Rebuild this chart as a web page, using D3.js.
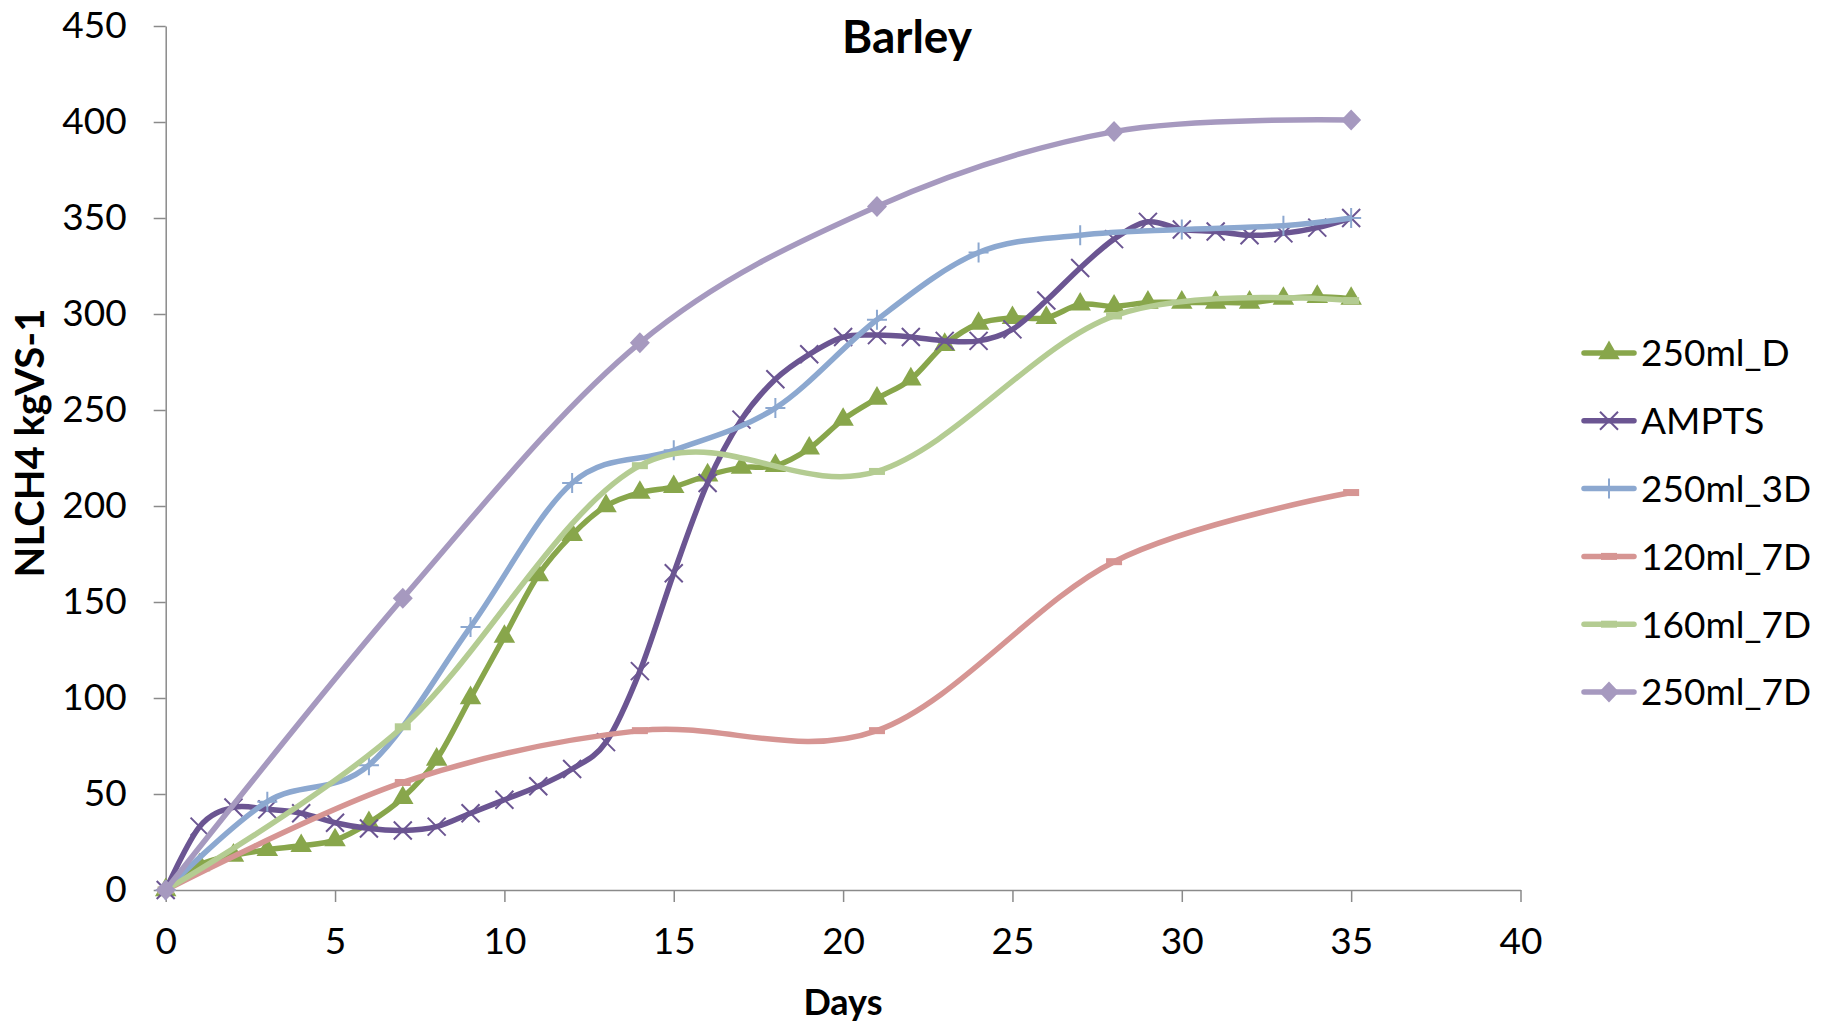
<!DOCTYPE html>
<html>
<head>
<meta charset="utf-8">
<script src="https://cdn.jsdelivr.net/npm/d3@7"></script>
<style>
  body { margin: 0; background: #fff; }
  svg { display: block; font-family: Lato, "Open Sans", sans-serif; }
</style>
</head>
<body>
<div id="wrapper"></div>
<script>
// data
const seriesNames = ["250ml_D", "AMPTS", "250ml_3D", "120ml_7D", "160ml_7D", "250ml_7D"]

const daysDaily = [0, 1, 2, 3, 4, 5, 6, 7, 8, 9, 10, 11, 12, 13, 14, 15, 16, 17,
  18, 19, 20, 21, 22, 23, 24, 25, 26, 27, 28, 29, 30, 31, 32, 33, 34, 35]
const days3 = [0, 3, 6, 9, 12, 15, 18, 21, 24, 27, 30, 33, 35]
const days7 = [0, 7, 14, 21, 28, 35]

const ml250D = [0, 13, 18, 21, 23, 26, 35, 48, 68, 100, 132, 164, 185, 200, 207, 210,
  216, 220, 221, 230, 245, 256, 266, 284, 295, 298, 298, 305, 304, 306, 306, 306, 306, 308, 309, 308]
const ampts = [0, 33, 43, 42, 40, 35, 32, 31, 33, 40, 47, 54, 63, 77, 114, 165,
  212, 245, 266, 279, 288, 289, 288, 286, 286, 292, 307, 324, 339, 348, 344, 343, 341, 342, 345, 350]
const ml250_3D = [0, 46, 65, 137, 212, 229, 251, 297, 332, 341, 344, 346, 350]
const ml120_7D = [0, 56, 83, 83, 171, 207]
const ml160_7D = [0, 85, 221, 218, 299, 307]
const ml250_7D = [0, 152, 285, 356, 395, 401]

const xTicks = [0, 5, 10, 15, 20, 25, 30, 35, 40]
const yTicks = [0, 50, 100, 150, 200, 250, 300, 350, 400, 450]

const series = [
  { name: seriesNames[0], days: daysDaily, values: ml250D, color: "#88a64b", marker: "triangle" },
  { name: seriesNames[1], days: daysDaily, values: ampts, color: "#6b5592", marker: "x" },
  { name: seriesNames[2], days: days3, values: ml250_3D, color: "#8ca8d0", marker: "plus" },
  { name: seriesNames[3], days: days7, values: ml120_7D, color: "#d69593", marker: "dash" },
  { name: seriesNames[4], days: days7, values: ml160_7D, color: "#b4cc92", marker: "dash" },
  { name: seriesNames[5], days: days7, values: ml250_7D, color: "#a699bf", marker: "diamond" },
]

const width = 1833
const height = 1028
const axisColor = "#8a8a8a"

const wrapper = d3.select("#wrapper")
  .append("svg")
    .attr("width", width)
    .attr("height", height)

const xScale = d3.scaleLinear()
  .domain([0, 40])
  .range([165.7, 1520.5])

const yScale = d3.scaleLinear()
  .domain([0, 450])
  .range([890, 26])

// axes
const xAxis = wrapper.append("g")
  .attr("transform", `translate(0,${yScale(0)})`)
  .call(d3.axisBottom(xScale).tickValues(xTicks).tickSizeInner(12).tickSizeOuter(0).tickPadding(26))
const yAxis = wrapper.append("g")
  .attr("transform", `translate(${xScale(0)},0)`)
  .call(d3.axisLeft(yScale).tickValues(yTicks).tickSizeInner(12).tickSizeOuter(0).tickPadding(27))

;[xAxis, yAxis].forEach(ax => {
  ax.select(".domain").attr("stroke", axisColor).attr("stroke-width", 1.5)
  ax.selectAll(".tick line").attr("stroke", axisColor).attr("stroke-width", 1.5)
  ax.selectAll(".tick text")
    .attr("fill", "#000")
    .style("font-family", "Lato, sans-serif")
    .style("font-size", "37px")
})

// marker drawing
function drawMarker(g, type, color) {
  if (type === "triangle") {
    g.append("path").attr("d", d3.symbol(d3.symbolTriangle, 200)()).attr("fill", color)
  } else if (type === "diamond") {
    g.append("path").attr("d", "M0,-10.5L10,0L0,10.5L-10,0Z").attr("fill", color)
  } else if (type === "x") {
    g.append("path").attr("d", "M-9,-9L9,9M-9,9L9,-9")
      .attr("stroke", color).attr("stroke-width", 2).attr("fill", "none")
  } else if (type === "plus") {
    g.append("path").attr("d", "M-10,0L10,0M0,-10L0,10")
      .attr("stroke", color).attr("stroke-width", 2).attr("fill", "none")
  } else if (type === "dash") {
    g.append("rect").attr("x", -8).attr("y", -3.5).attr("width", 16).attr("height", 7).attr("fill", color)
  }
}

const lineGen = d3.line()
  .x(d => xScale(d[0]))
  .y(d => yScale(d[1]))
  .curve(d3.curveCardinal.tension(0))

series.forEach(s => {
  const pts = s.days.map((d, i) => [d, s.values[i]])
  const g = wrapper.append("g")
  g.append("path")
    .attr("d", lineGen(pts))
    .attr("fill", "none")
    .attr("stroke", s.color)
    .attr("stroke-width", 5.5)
    .attr("stroke-linejoin", "round")
  pts.forEach(p => {
    const m = g.append("g").attr("transform", `translate(${xScale(p[0])},${yScale(p[1])})`)
    drawMarker(m, s.marker, s.color)
  })
})

// title and axis labels
wrapper.append("text")
  .attr("x", 907)
  .attr("y", 53)
  .attr("text-anchor", "middle")
  .style("font-size", "46px")
  .style("font-weight", "bold")
  .text("Barley")

wrapper.append("text")
  .attr("x", 843)
  .attr("y", 1015)
  .attr("text-anchor", "middle")
  .style("font-size", "36px")
  .style("font-weight", "bold")
  .text("Days")

wrapper.append("text")
  .attr("transform", "translate(44,443) rotate(-90)")
  .attr("text-anchor", "middle")
  .style("font-size", "40px")
  .style("font-weight", "bold")
  .text("NLCH4 kgVS-1")

// legend
const legend = wrapper.append("g")
series.forEach((s, i) => {
  const cy = 353 + i * 67.8
  const row = legend.append("g").attr("transform", `translate(0,${cy})`)
  row.append("line")
    .attr("x1", 1584).attr("x2", 1634)
    .attr("stroke", s.color).attr("stroke-width", 5.5).attr("stroke-linecap", "round")
  const m = row.append("g").attr("transform", "translate(1609,0)")
  drawMarker(m, s.marker, s.color)
  row.append("text")
    .attr("x", 1641)
    .attr("y", 0)
    .attr("dy", "0.36em")
    .style("font-size", "37px")
    .text(s.name)
})
</script>
</body>
</html>
